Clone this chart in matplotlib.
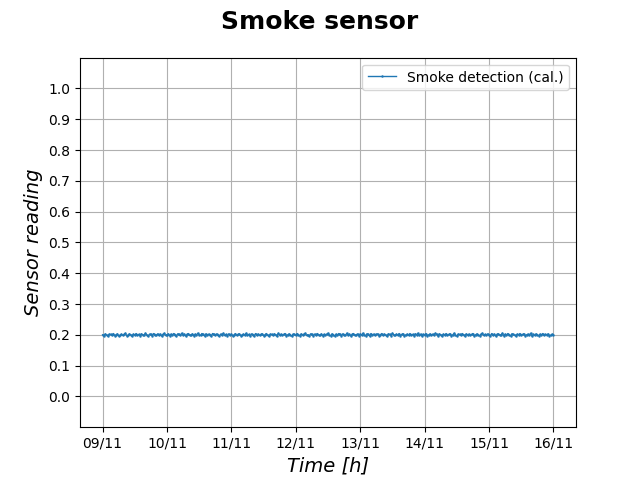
import matplotlib
matplotlib.use("Agg")
import matplotlib.pyplot as plt
import matplotlib.dates as mdates
import numpy as np
import pandas as pd

start = "2023-11-09 00:00"
end = "2023-11-16 00:00"

smoke = [
    0.200, 0.197, 0.203, 0.199, 0.196, 0.202, 0.201, 0.198, 0.204, 0.197, 0.200, 0.203,
    0.196, 0.199, 0.202, 0.198, 0.201, 0.205, 0.197, 0.199, 0.203, 0.200, 0.196, 0.202,
    0.199, 0.204, 0.198, 0.201, 0.197, 0.203, 0.200, 0.198, 0.205, 0.199, 0.196, 0.202,
    0.201, 0.197, 0.204, 0.200, 0.198, 0.203, 0.199, 0.202, 0.196, 0.201, 0.205, 0.198,
    0.200, 0.203, 0.197, 0.202, 0.199, 0.204, 0.200, 0.197, 0.203, 0.201, 0.198, 0.205,
    0.199, 0.202, 0.196, 0.201, 0.204, 0.198, 0.200, 0.203, 0.197, 0.202, 0.199, 0.205,
    0.200, 0.198, 0.204, 0.201, 0.196, 0.203, 0.199, 0.202, 0.200, 0.197, 0.204, 0.201,
    0.198, 0.203, 0.199, 0.196, 0.202, 0.200, 0.205, 0.198, 0.201, 0.197, 0.203, 0.199,
    0.202, 0.196, 0.200, 0.204, 0.198, 0.201, 0.203, 0.197, 0.200, 0.202, 0.199, 0.205,
    0.198, 0.201, 0.196, 0.203, 0.200, 0.197, 0.204, 0.199, 0.202, 0.198, 0.201, 0.203,
    0.197, 0.200, 0.204, 0.199, 0.196, 0.202, 0.201, 0.198, 0.203, 0.200, 0.197, 0.205,
    0.199, 0.202, 0.198, 0.201, 0.204, 0.197, 0.200, 0.203, 0.199, 0.196, 0.202, 0.201,
    0.198, 0.204, 0.200, 0.197, 0.203, 0.199, 0.202, 0.205, 0.198, 0.200, 0.196, 0.203,
    0.201, 0.197, 0.202, 0.199, 0.204, 0.200, 0.198, 0.203, 0.197, 0.201, 0.199, 0.202,
    0.205, 0.199, 0.197, 0.203, 0.200, 0.196, 0.202, 0.198, 0.204, 0.201, 0.197, 0.203,
    0.200, 0.198, 0.205, 0.199, 0.202, 0.196, 0.201, 0.204, 0.198, 0.200, 0.203, 0.197,
    0.202, 0.199, 0.205, 0.200, 0.197, 0.203, 0.201, 0.196, 0.204, 0.199, 0.202, 0.198,
    0.201, 0.203, 0.197, 0.200, 0.204, 0.198, 0.202, 0.199, 0.196, 0.203, 0.201, 0.197,
    0.205, 0.200, 0.198, 0.202, 0.199, 0.204, 0.197, 0.201, 0.203, 0.196, 0.200, 0.202,
    0.198, 0.204, 0.199, 0.201, 0.197, 0.203, 0.200, 0.205, 0.198, 0.202, 0.196, 0.201,
    0.199, 0.204, 0.197, 0.200, 0.203, 0.198, 0.202, 0.199, 0.205, 0.201, 0.196, 0.203,
    0.200, 0.197, 0.202, 0.199, 0.204, 0.198, 0.201, 0.203, 0.197, 0.200, 0.205, 0.199,
    0.196, 0.202, 0.201, 0.198, 0.204, 0.200, 0.197, 0.203, 0.199, 0.202, 0.198, 0.201,
    0.204, 0.196, 0.200, 0.203, 0.199, 0.197, 0.202, 0.205, 0.198, 0.201, 0.199, 0.203,
    0.200, 0.197, 0.204, 0.198, 0.202, 0.196, 0.201, 0.203, 0.199, 0.200, 0.205, 0.197,
    0.202, 0.198, 0.204, 0.200, 0.196, 0.203, 0.201, 0.199, 0.197, 0.202, 0.200, 0.204,
    0.198, 0.201, 0.203, 0.197, 0.200, 0.202, 0.199, 0.205, 0.196, 0.201, 0.198, 0.203,
    0.200, 0.197, 0.202, 0.199, 0.204, 0.198, 0.201, 0.200, 0.203, 0.197, 0.199, 0.202,
    0.200,
]

times = pd.date_range(start, end, periods=len(smoke))

fig, ax = plt.subplots(figsize=(6.4, 4.8), dpi=100)
ax.plot(times, smoke, marker='.', markersize=1.5, linewidth=1,
        label='Smoke detection (cal.)')
fig.suptitle('Smoke sensor', fontsize=18, fontweight='bold')
ax.set_xlabel('Time [h]', fontsize=14, style='italic')
ax.set_ylabel('Sensor reading', fontsize=14, style='italic')
ax.set_ylim(-0.1, 1.1)
ax.set_yticks(np.round(np.arange(0, 1.01, 0.1), 1))
ax.xaxis.set_major_locator(mdates.DayLocator())
ax.xaxis.set_major_formatter(mdates.DateFormatter('%d/%m'))
ax.grid(True)
ax.legend(loc='upper right')
fig.savefig('out.png', dpi=100)
